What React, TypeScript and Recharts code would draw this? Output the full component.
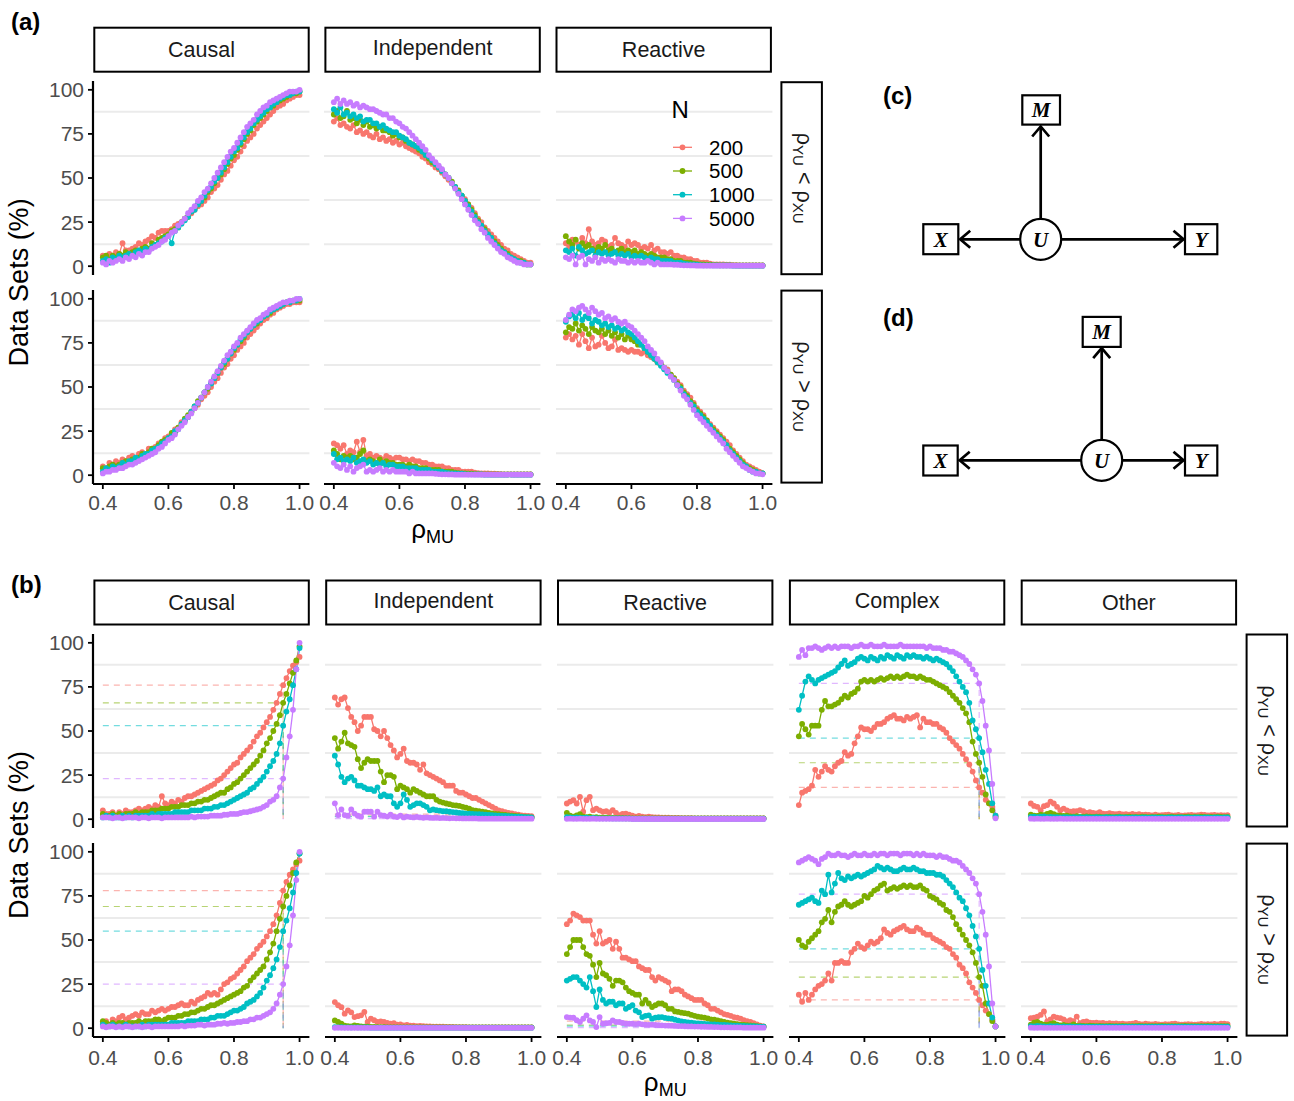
import React from 'react';
import { LineChart, Line, XAxis, YAxis, CartesianGrid } from 'recharts';

const FONT = "'Liberation Sans', Arial, Helvetica, sans-serif";
const SERIF = "'Liberation Serif', 'Times New Roman', serif";

// x: rho_MU grid
const RHO_MU = [
  0.4, 0.41, 0.42, 0.43, 0.44, 0.45, 0.46, 0.47, 0.48, 0.49,
  0.5, 0.51, 0.52, 0.53, 0.54, 0.55, 0.56, 0.57, 0.58, 0.59,
  0.6, 0.61, 0.62, 0.63, 0.64, 0.65, 0.66, 0.67, 0.68, 0.69,
  0.7, 0.71, 0.72, 0.73, 0.74, 0.75, 0.76, 0.77, 0.78, 0.79,
  0.8, 0.81, 0.82, 0.83, 0.84, 0.85, 0.86, 0.87, 0.88, 0.89,
  0.9, 0.91, 0.92, 0.93, 0.94, 0.95, 0.96, 0.97, 0.98, 0.99,
  1.0,
];

const SAMPLE_SIZES = ['200', '500', '1000', '5000'];
const COLORS = ['#F8766D', '#7CAE00', '#00BFC4', '#C77CFF'];
const TYPES_A = ['Causal', 'Independent', 'Reactive'];
const TYPES_B = ['Causal', 'Independent', 'Reactive', 'Complex', 'Other'];
const Y_TICKS = [0, 25, 50, 75, 100];
const X_TICKS = [0.4, 0.6, 0.8, 1.0];
const MINOR_GRID = [12.5, 37.5, 62.5, 87.5];
const THRESHOLD_X = 0.95;

// ---------- (a) rho_YU < rho_XU ----------
const aCauLt200 = [6,5,7,6,8,7,13,9,9,10, 11,13,12,14,15,17,16,19,20,20, 20,21,23,24,25,27,28,30,32,34, 35,37,39,42,44,46,49,52,54,57, 60,62,65,68,71,73,75,78,80,82, 84,86,88,90,91,92,94,95,96,97, 97];
const aCauLt500 = [5,6,4,6,5,7,6,8,7,8, 9,8,10,11,10,13,12,15,16,17, 18,20,21,22,25,27,28,31,33,35, 37,39,42,44,47,50,52,55,58,61, 63,66,69,72,75,77,80,82,84,86, 88,90,91,93,94,95,96,97,98,98, 99];
const aCauLt1000 = [3,4,2,5,4,6,5,6,7,6, 8,9,8,10,9,11,12,13,14,16, 17,13,20,22,24,26,28,31,32,35, 37,40,43,45,48,50,53,56,59,62, 65,67,70,73,76,78,81,83,85,87, 89,90,92,93,95,96,97,97,98,99, 99];
const aCauLt5000 = [2,1,3,2,3,4,3,5,4,6, 5,7,6,8,8,10,11,12,14,15, 17,19,20,23,25,27,30,32,34,37, 39,42,44,47,50,53,56,59,62,65, 67,70,73,76,79,81,83,86,88,90, 91,93,94,95,96,97,98,99,99,99, 100];

const aIndLt200 = [82,84,80,81,79,78,80,76,77,75, 76,74,73,75,72,73,71,72,70,71, 69,70,68,67,66,65,64,62,61,59, 58,56,55,53,51,49,47,45,42,40, 38,35,33,30,27,25,22,20,18,16, 14,12,10,9,7,6,5,4,3,2, 2];
const aIndLt500 = [86,88,84,85,88,83,84,81,83,80, 82,79,80,78,79,77,77,76,74,75, 73,73,71,70,69,68,66,65,63,61, 59,58,56,54,52,50,48,45,43,40, 37,35,32,29,26,23,21,18,16,14, 12,10,8,7,5,4,3,3,2,1, 1];
const aIndLt1000 = [89,87,90,86,87,85,86,84,85,82, 83,83,81,81,79,80,78,77,76,76, 74,73,72,70,69,68,67,65,63,62, 60,58,56,54,52,50,47,45,42,40, 37,34,31,28,25,23,20,18,16,13, 11,9,8,6,5,4,3,2,2,1, 1];
const aIndLt5000 = [93,95,92,94,92,93,91,92,90,91, 90,89,89,88,87,86,86,84,84,82, 81,79,78,76,74,72,70,68,66,63, 61,59,57,55,52,50,47,44,41,38, 35,32,29,26,24,21,19,16,14,12, 10,8,7,5,4,3,2,2,1,1, 1];

const aReaLt200 = [13,11,15,14,12,16,13,21,14,12, 13,15,14,11,12,16,13,12,11,14, 12,13,12,10,11,10,12,9,10,8, 8,7,8,6,6,5,5,4,4,3, 3,2,2,2,1.5,1,1,1,1,0.8, 0.8,0.6,0.6,0.5,0.5,0.5,0.5,0.5,0.5,0.5, 0.5];
const aReaLt500 = [17,14,12,15,10,13,11,12,10,9, 11,10,12,9,10,8,9,10,8,9, 8,9,7,8,7,6,7,6,5,5, 5,4,4,3,3,3,2,2,2,1.5, 1.2,1,1,0.8,0.8,0.6,0.6,0.5,0.5,0.5, 0.5,0.5,0.4,0.4,0.4,0.4,0.4,0.4,0.4,0.4, 0.4];
const aReaLt1000 = [9,8,10,6,11,9,7,8,9,6, 8,7,8,6,7,8,6,7,6,7, 5,6,5,6,5,4,5,4,4,3, 3,3,3,2,2,2,1.5,1.2,1,1, 0.8,0.6,0.5,0.5,0.5,0.4,0.4,0.4,0.4,0.4, 0.4,0.3,0.3,0.3,0.3,0.3,0.3,0.3,0.3,0.3, 0.3];
const aReaLt5000 = [5,4,6,1,5,6,1,4,3,5, 2,4,3,4,3,2,4,3,3,2, 3,2,3,2,2,3,2,1,2,1, 1,1,1,0.8,0.8,0.6,0.5,0.5,0.4,0.4, 0.3,0.3,0.3,0.3,0.3,0.3,0.3,0.3,0.3,0.3, 0.3,0.3,0.3,0.3,0.3,0.3,0.3,0.3,0.3,0.3, 0.3];

// ---------- (a) rho_YU > rho_XU ----------
const aCauGt200 = [5,4,7,6,8,7,9,8,10,11, 10,12,13,12,15,14,16,18,17,21, 22,22,26,27,30,31,33,36,38,40, 43,45,47,50,53,55,58,61,63,66, 68,71,73,75,78,80,82,84,86,88, 89,91,92,94,95,96,97,97,98,98, 98];
const aCauGt500 = [4,3,5,6,5,6,7,8,7,9, 9,10,12,11,13,15,14,17,19,20, 21,24,24,27,29,32,34,36,39,42, 44,47,49,52,55,58,61,63,66,69, 71,74,76,78,81,83,85,86,88,90, 91,92,94,95,96,97,98,98,99,99, 99];
const aCauGt1000 = [2,4,3,5,4,5,7,6,8,8, 10,9,11,12,12,14,15,16,18,19, 21,22,25,26,29,31,33,36,39,41, 44,47,50,52,55,58,61,64,66,69, 72,74,77,79,81,83,85,87,88,90, 91,93,94,95,96,97,98,98,99,99, 100];
const aCauGt5000 = [1,2,2,3,3,4,4,5,6,6, 7,8,9,10,11,12,13,15,16,18, 20,21,23,26,28,30,33,35,38,41, 44,47,50,53,56,59,62,65,68,70, 73,75,78,80,82,84,86,88,89,91, 92,94,95,96,97,98,98,99,99,100, 100];

const aIndGt200 = [18,17,15,17,12,14,13,19,13,20, 11,12,10,11,10,9,11,10,9,10, 10,9,9,8,9,8,8,7,7,6, 6,5,5,5,4,4,3,3,3,2, 2,2,2,1.5,1.2,1,1,1,0.8,0.8, 0.7,0.6,0.5,0.5,0.5,0.5,0.5,0.5,0.5,0.5, 0.5];
const aIndGt500 = [14,12,9,11,10,11,9,10,12,14, 8,9,8,7,9,7,8,7,7,6, 6,6,5,6,5,5,4,4,4,3, 3,3,3,2,2,2,2,1.5,1.2,1, 1,0.8,0.8,0.6,0.6,0.5,0.5,0.5,0.4,0.4, 0.4,0.4,0.4,0.4,0.4,0.4,0.4,0.4,0.4,0.4, 0.4];
const aIndGt1000 = [12,9,10,8,9,8,10,7,8,9, 7,8,6,7,6,7,5,6,6,5, 5,5,4,4,4,4,3,3,3,3, 2,2,2,2,1.5,1.2,1,1,0.8,0.8, 0.6,0.5,0.5,0.4,0.4,0.4,0.3,0.3,0.3,0.3, 0.3,0.3,0.3,0.3,0.3,0.3,0.3,0.3,0.3,0.3, 0.3];
const aIndGt5000 = [7,5,4,6,3,5,2,4,5,6, 2,3,2,3,4,2,3,2,3,2, 2,2,2,1,2,1,1,1,1,1, 1,0.8,0.6,0.5,0.5,0.4,0.4,0.3,0.3,0.3, 0.3,0.3,0.3,0.3,0.3,0.3,0.3,0.3,0.3,0.3, 0.3,0.3,0.3,0.3,0.3,0.3,0.3,0.3,0.3,0.3, 0.3];

const aReaGt200 = [78,80,77,79,74,80,76,72,78,73, 74,79,75,72,73,77,71,72,71,70, 71,70,70,69,70,68,67,66,64,63, 61,60,57,55,53,51,48,46,44,41, 38,36,34,31,29,27,25,23,21,19, 17,14,12,10,8,6,5,4,3,2, 1];
const aReaGt500 = [81,84,83,86,82,85,83,80,84,82, 81,83,80,82,79,81,78,80,77,79, 77,76,74,74,72,70,68,66,64,63, 61,59,57,55,52,50,47,45,42,40, 37,35,33,31,28,26,24,22,20,17, 15,13,11,9,7,5,4,3,2,1, 1];
const aReaGt1000 = [87,90,91,89,92,88,90,89,86,88, 87,85,86,84,85,83,84,82,83,81, 80,78,76,74,72,70,68,66,64,62, 60,58,56,54,51,49,46,44,41,39, 36,34,32,30,28,25,23,21,19,17, 14,12,10,8,6,5,3,2,2,1, 1];
const aReaGt5000 = [88,91,94,93,95,96,94,92,95,93, 91,92,89,90,88,89,87,86,87,85, 84,82,80,78,76,73,71,69,66,64, 61,59,56,54,51,48,45,43,40,37, 34,32,30,28,26,24,22,20,18,15, 13,11,9,7,5,4,3,2,1,1, 0.5];

// ---------- (b) rho_YU < rho_XU ----------
const bCauLt200 = [5,3,3,4,2,4,3,5,4,4, 5,6,5,6,7,6,8,7,13,9, 8,10,9,11,10,12,13,13,14,15, 16,17,18,19,20,22,23,25,27,29, 31,32,35,37,39,41,44,47,49,52, 55,58,62,66,71,76,80,84,87,89, 92];
const bCauLt500 = [3,2,2,3,2,3,2,3,3,3, 4,3,4,4,4,5,5,5,6,6, 6,7,7,7,8,8,8,9,9,10, 10,11,11,12,13,14,15,15,17,18, 20,21,23,25,27,29,31,33,36,39, 43,46,50,54,59,66,71,77,83,90, 98];
const bCauLt1000 = [1,2,1,2,1,1,2,1,2,1, 2,2,2,2,2,3,2,3,3,3, 3,3,4,4,4,4,4,5,5,5, 5,6,6,6,7,7,8,8,9,10, 11,12,13,14,15,17,18,20,22,24, 27,30,33,37,43,53,61,68,76,85, 97];
const bCauLt5000 = [1,1,1,0.5,1,1,0.5,1,1,1, 1,0.5,1,1,0.5,1,1,1,0.5,1, 1,1,1,1,1,1,1,1.5,1,1.5, 1.5,1.5,1.5,2,2,2,2,2.5,2.5,3, 3,3,3.5,4,4,4.5,5,5.5,6,7, 8,10,11,13,18,23,35,47,62,85, 100];

const bIndLt200 = [69,65,68,69,63,58,55,50,53,58, 58,58,51,50,47,50,46,42,39,35, 37,40,33,32,32,31,28,31,26,25, 24,23,22,21,19,19,19,16,15,15, 14,13,12,12,11,10,9,8,7,6, 5,4.5,4,3.6,3.3,2.9,2.5,2.2,2,1.8, 1.7];
const bIndLt500 = [46,40,44,49,43,42,41,34,29,32, 34,33,33,33,27,21,25,25,24,17, 19,18,17,15,17,16,15,14,13,13, 13,11,10,9.4,8.9,8.5,8,7.8,7.5,7, 6.5,6,5.1,4.8,4.6,4.2,4,3.6,3.3,3, 2.9,2.6,2.4,2.2,2,1.8,1.7,1.5,1.3,1.1, 1];
const bIndLt1000 = [36,31,24,21,23,24,22,19,19,18, 17,17,16,18,13,14,13,13,9,7, 9,14,11,7,8,9,9,8,7,5, 5.5,5.1,4.8,4.5,4.5,4.2,4,3.8,3.5,3.4, 3.2,3.1,3,2.9,2.8,2.7,2.5,2.4,2.3,2.2, 2,1.9,1.8,1.7,1.6,1.5,1.4,1.3,1.2,1.1, 1];
const bIndLt5000 = [9,2.3,5.5,2.3,2,5.5,3.2,2,1.4,4.2, 4.2,4.2,1.4,4.2,2.3,2,1.5,2.5,1.5,1.2, 2,1,1.5,1.2,1,1.3,1,0.8,1,0.8, 0.7,0.8,0.6,0.7,0.6,0.5,0.6,0.5,0.5,0.4, 0.4,0.4,0.4,0.4,0.3,0.3,0.3,0.3,0.3,0.3, 0.3,0.3,0.3,0.3,0.3,0.3,0.3,0.3,0.3,0.3, 0.3];

const bReaLt200 = [8.9,10,10.8,8.9,12.7,4.2,10.8,12.7,5.1,6, 5,4.2,4.5,3.8,5.1,3.5,2.3,3,3.2,2.5, 2,1.4,1.8,1.5,1.2,1.4,1.2,1,1,0.8, 0.8,0.8,0.7,0.7,0.7,0.6,0.6,0.6,0.6,0.5, 0.5,0.5,0.5,0.5,0.5,0.5,0.5,0.5,0.5,0.5, 0.5,0.5,0.5,0.5,0.5,0.5,0.5,0.5,0.5,0.5, 0.5];
const bReaLt500 = [3.6,2,1.4,2.2,2.9,1.5,1.2,1.5,1,1.2, 0.9,0.8,0.8,0.7,0.7,0.6,0.6,0.6,0.5,0.5, 0.5,0.5,0.5,0.5,0.4,0.4,0.4,0.4,0.4,0.4, 0.4,0.4,0.4,0.4,0.4,0.4,0.4,0.4,0.4,0.4, 0.4,0.4,0.4,0.4,0.4,0.4,0.4,0.4,0.4,0.4, 0.4,0.4,0.4,0.4,0.4,0.4,0.4,0.4,0.4,0.4, 0.4];
const bReaLt1000 = [1.2,1,0.8,1,0.9,0.7,0.8,0.6,0.7,0.6, 0.5,0.5,0.5,0.5,0.4,0.4,0.4,0.4,0.4,0.4, 0.3,0.3,0.3,0.3,0.3,0.3,0.3,0.3,0.3,0.3, 0.3,0.3,0.3,0.3,0.3,0.3,0.3,0.3,0.3,0.3, 0.3,0.3,0.3,0.3,0.3,0.3,0.3,0.3,0.3,0.3, 0.3,0.3,0.3,0.3,0.3,0.3,0.3,0.3,0.3,0.3, 0.3];
const bReaLt5000 = [0.2,0.3,0.2,0.2,0.3,0.2,0.2,0.2,0.3,0.2, 0.2,0.2,0.2,0.2,0.2,0.2,0.2,0.2,0.2,0.2, 0.1,0.1,0.1,0.1,0.1,0.1,0.1,0.1,0.1,0.1, 0.1,0.1,0.1,0.1,0.1,0.1,0.1,0.1,0.1,0.1, 0.1,0.1,0.1,0.1,0.1,0.1,0.1,0.1,0.1,0.1, 0.1,0.1,0.1,0.1,0.1,0.1,0.1,0.1,0.1,0.1, 0.1];

const bComLt200 = [8,15,16,17,19,28,24,27,30,28, 27,30,32,33,38,36,37,43,47,52, 51,51,50,52,54,54,55,57,58,59, 57,57,56,58,57,58,59,52,57,55, 55,54,54,52,51,49,46,44,42,40, 37,34,31,27,22,18,15,11,9,7, 2];
const bComLt500 = [47,54,51,48,53,53,53,62,67,64, 64,65,66,68,70,69,71,72,74,78, 79,78,79,78,79,80,79,80,81,80, 81,80,81,82,81,81,80,81,80,79, 79,78,77,76,75,74,72,70,68,66, 63,60,55,44,37,32,24,14,9,5, 1];
const bComLt1000 = [62,70,78,81,79,77,79,80,81,82, 83,84,86,88,90,87,88,89,91,92, 91,90,92,91,90,92,91,93,92,91, 93,92,91,93,92,93,92,92,91,92, 91,90,91,90,89,88,86,84,81,78, 75,72,66,56,51,46,38,28,20,9, 2];
const bComLt5000 = [92,96,93,97,97,98,97,96,97,98, 97,98,97,98,98,98,97,98,98,99, 98,98,99,98,98,98,99,98,98,98, 98,99,98,98,98,98,98,98,98,97, 98,97,97,97,96,96,95,95,94,93, 92,90,88,85,82,77,67,53,39,20, 0.5];

const bOthLt200 = [8.9,7.5,7,5.1,7.4,8,9.9,8.9,7,5.1, 6,5,4.2,4.5,4.6,5.1,4.5,3.6,4,3.5, 3.3,4,3.2,3,3.4,3,2.8,3.1,2.7,2.9, 2.6,3,2.5,2.8,2.4,2.6,2.4,2.2,2.5,2.1, 2.3,2.4,2.6,2.2,2.1,2.4,2,2.2,2.3,2.4, 2.1,2.3,2.5,2.4,2.2,2.3,2.4,2.1,2.3,2.2, 2.3];
const bOthLt500 = [2.5,2,1.8,2.5,2.3,3,3.5,2.8,2.2,2, 1.8,2,1.6,1.5,1.7,1.4,1.5,1.6,1.4,1.3, 1.5,1.4,1.2,1.3,1.4,1.2,1.3,1.5,1.2,1.3, 1.4,1.2,1.3,1.2,1.4,1.3,1.2,1.3,1.2,1.4, 1.3,1.2,1.3,1.4,1.2,1.3,1.2,1.3,1.4,1.2, 1.3,1.2,1.4,1.3,1.2,1.3,1.2,1.4,1.3,1.2, 1.3];
const bOthLt1000 = [1.3,1.5,1.2,1.4,1.6,1.2,1.3,1.1,1.2,1, 1.1,1.2,1,1.1,1,1.2,1,1.1,1,1, 1.1,1,1,1.1,1,1,1,1.1,1,1, 0.9,1,1,0.9,1,1,0.9,1,1,0.9, 1,0.9,1,1,0.9,1,1,0.9,1,0.9, 1,1,0.9,1,1,0.9,1,1,0.9,1, 1];
const bOthLt5000 = [0.3,0.2,0.3,0.2,0.2,0.3,0.2,0.2,0.2,0.3, 0.2,0.2,0.2,0.2,0.2,0.2,0.2,0.2,0.2,0.2, 0.2,0.2,0.2,0.2,0.2,0.2,0.2,0.2,0.2,0.2, 0.2,0.2,0.2,0.2,0.2,0.2,0.2,0.2,0.2,0.2, 0.2,0.2,0.2,0.2,0.2,0.2,0.2,0.2,0.2,0.2, 0.2,0.2,0.2,0.2,0.2,0.2,0.2,0.2,0.2,0.2, 0.2];

// ---------- (b) rho_YU > rho_XU ----------
const bCauGt200 = [3,4,2,5,4,6,7,5,6,7, 8,7,9,8,8,10,9,10,11,10, 11,12,12,13,14,13,13,15,14,16, 17,18,20,19,20,19,22,25,26,28, 29,31,33,35,38,40,42,45,47,49, 52,55,59,64,71,78,83,87,90,93, 95];
const bCauGt500 = [4,3,2,3,2,3,3,2,3,3, 3,4,3,4,4,4,5,5,4,5, 6,6,6,7,7,8,8,9,9,10, 11,11,12,13,13,14,15,16,17,18, 19,20,21,23,24,27,29,31,33,35, 39,43,48,55,62,69,75,81,88,94, 99];
const bCauGt1000 = [2,1,1,2,1,1,1,2,1,1, 1,1,2,1,2,2,2,2,2,2, 2,3,3,3,3,3,4,4,4,4, 5,5,5,6,6,7,7,7,8,9, 10,10,11,12,14,15,16,18,20,23, 27,30,34,39,46,55,61,68,77,88, 99];
const bCauGt5000 = [1,0.5,1,1,0.5,1,0.5,1,1,0.5, 1,1,0.5,1,1,0.5,1,1,1,1, 1,1,1,1,1.5,1,1.5,1.5,1.5,2, 2,1.5,2,2,2,2.5,2.5,3,2.5,3, 3,3.5,3.5,4,4,5,5,6,6,7, 8,9,11,14,19,25,35,47,64,84, 100];

const bIndGt200 = [14.8,13,11.9,8.2,10.1,9,6.3,6.8,7.3,9.2, 3.5,5.4,4.5,3.5,3.8,3.5,3,2.6,2.8,2, 2.2,1.6,1.8,1.5,1.4,1.2,1.3,1.1,1,1, 0.9,0.9,0.8,0.8,0.7,0.7,0.7,0.6,0.6,0.6, 0.6,0.5,0.5,0.5,0.5,0.5,0.5,0.5,0.5,0.5, 0.5,0.5,0.5,0.5,0.5,0.5,0.5,0.5,0.5,0.5, 0.5];
const bIndGt500 = [4.4,3.5,2.6,1.5,1.2,1,1.6,1.3,1,0.8, 0.8,0.7,0.7,0.6,0.6,0.6,0.5,0.5,0.5,0.5, 0.5,0.4,0.4,0.4,0.4,0.4,0.4,0.4,0.4,0.4, 0.4,0.4,0.4,0.4,0.4,0.4,0.4,0.4,0.4,0.4, 0.4,0.4,0.4,0.4,0.4,0.4,0.4,0.4,0.4,0.4, 0.4,0.4,0.4,0.4,0.4,0.4,0.4,0.4,0.4,0.4, 0.4];
const bIndGt1000 = [0.6,0.5,0.6,0.5,0.5,0.4,0.5,0.4,0.4,0.4, 0.4,0.3,0.3,0.3,0.3,0.3,0.3,0.3,0.3,0.3, 0.3,0.3,0.3,0.3,0.3,0.3,0.3,0.3,0.3,0.3, 0.3,0.3,0.3,0.3,0.3,0.3,0.3,0.3,0.3,0.3, 0.3,0.3,0.3,0.3,0.3,0.3,0.3,0.3,0.3,0.3, 0.3,0.3,0.3,0.3,0.3,0.3,0.3,0.3,0.3,0.3, 0.3];
const bIndGt5000 = [0.2,0.3,0.2,0.2,0.2,0.2,0.2,0.2,0.2,0.2, 0.2,0.2,0.2,0.2,0.2,0.2,0.2,0.2,0.2,0.2, 0.2,0.2,0.2,0.2,0.2,0.2,0.2,0.2,0.2,0.2, 0.2,0.2,0.2,0.2,0.2,0.2,0.2,0.2,0.2,0.2, 0.2,0.2,0.2,0.2,0.2,0.2,0.2,0.2,0.2,0.2, 0.2,0.2,0.2,0.2,0.2,0.2,0.2,0.2,0.2,0.2, 0.2];

const bReaGt200 = [59,61,65,64,63,61,61,61,53,48, 55,48,49,50,45,49,45,40,40,39, 38,38,35,34,33,33,29,27,29,28, 27,26,21,22,22,21,19,18,17,16, 16,16,14,13,11,11,10,9,8,7.5, 7,6.3,6,5.4,4.5,4,3.5,2.8,2.2,1.5, 1];
const bReaGt500 = [42,46,50,50,50,46,42,41,36,29, 37,31,30,28,24,27,27,26,23,21, 20,19,19,14,16,14,12,13,14,14, 13,11,11,9.5,9.2,8.8,8.5,8.2,7.5,7, 6.5,6.3,6,5.5,5,4.8,4.4,4,3.6,3.2, 2.8,2.5,2.3,2,1.8,1.7,1.6,1.4,1.2,1, 0.8];
const bReaGt1000 = [27,28,29,29,27,25,23,29,21,12, 22,16,14,15,15,13,14,14,11,12, 13,10,9,6.3,7,7.3,5.4,6,6.2,6.3, 5.8,5.6,5.4,4.8,4.3,3.9,3.5,3.3,3.1,2.9, 2.7,2.5,2.4,2.3,2.2,2.1,2,1.9,1.8,1.7, 1.6,1.5,1.4,1.3,1.3,1.2,1.2,1.1,1,0.9, 0.8];
const bReaGt5000 = [6.3,6,5.9,4.5,3.5,5.4,7.3,4.4,3.5,0.6, 6.3,2.5,2.8,3,4.4,3.5,3.5,3,2.5,2.5, 2.5,2.3,2.5,2.2,2,1.9,2,1.8,1.7,1.6, 1.5,1.5,1.4,1.3,1.2,1.2,1.1,1,1,0.9, 0.9,0.8,0.8,0.7,0.7,0.6,0.6,0.5,0.5,0.5, 0.4,0.4,0.4,0.4,0.3,0.3,0.3,0.3,0.3,0.3, 0.3];

const bComGt200 = [19,15,20,16,19,22,24,25,27,31, 27,37,37,38,37,37,43,45,48,46, 45,47,49,48,49,51,56,54,53,55, 56,57,58,56,55,55,57,56,54,53, 53,51,50,49,48,46,45,42,40,36, 34,31,26,23,20,16,13,10,8,5, 1];
const bComGt500 = [50,47,46,49,51,53,55,60,62,67, 60,66,69,70,72,70,69,70,71,72, 75,74,76,78,79,81,82,78,79,80, 79,80,81,80,81,80,80,81,79,78, 75,74,73,71,70,67,66,63,59,56, 53,50,47,43,37,29,24,14,8,4, 1];
const bComGt1000 = [70,71,72,73,74,72,71,78,76,87, 77,82,88,85,84,86,85,86,87,86, 87,88,89,90,92,91,90,91,90,89, 89,90,91,90,90,91,90,89,89,88, 88,88,87,87,86,84,82,80,77,74, 72,68,64,58,52,45,33,24,14,6, 1];
const bComGt5000 = [94,95,96,97,96,95,93,96,97,99, 98,98,99,98,98,97,98,99,98,98, 99,98,98,99,98,99,99,98,99,99, 99,98,99,99,99,98,99,98,99,98, 98,98,97,98,97,97,96,95,95,94, 92,90,88,85,82,76,66,53,35,14, 1];

const bOthGt200 = [5.7,6,6.6,7.5,9.5,3.8,5,6.6,6,5.7, 5,3.8,4.5,4,6.6,2.9,3.5,3.8,3.2,3, 3.2,2.8,3,2.6,2.9,2.5,2.7,2.4,2.6,2.3, 2.4,2.6,3,2.4,2.2,2.5,2.3,2.1,2.4,2.2, 2,2.3,2.1,2.4,2.6,2.2,2,2.1,2.3,2.2, 2,2.1,2.4,2.2,2.3,2.1,2.4,2.2,2.5,2.6, 2.3];
const bOthGt500 = [2,3.2,3.5,2.6,2,1.8,2.4,2.9,2,1.6, 1.9,1.5,1.4,2.2,1.3,1.4,1.3,1.2,1.4,1.3, 1.2,1.3,1.2,1.2,1.3,1.2,1.1,1.2,1.3,1.2, 1.2,1.1,1.2,1.3,1.2,1.1,1.2,1.2,1.1,1.2, 1.3,1.2,1.1,1.2,1.2,1.1,1.2,1.3,1.2,1.1, 1.2,1.2,1.1,1.2,1.3,1.2,1.1,1.2,1.2,1.1, 1.2];
const bOthGt1000 = [1.2,1,1.3,1.1,1,0.9,1.2,1,1.1,0.9, 1,0.9,1,0.8,0.9,1,0.9,0.8,0.9,0.9, 0.8,0.9,0.8,0.9,0.8,0.8,0.9,0.8,0.8,0.9, 0.8,0.8,0.9,0.8,0.8,0.8,0.9,0.8,0.8,0.8, 0.9,0.8,0.8,0.8,0.9,0.8,0.8,0.8,0.9,0.8, 0.8,0.8,0.9,0.8,0.8,0.8,0.9,0.8,0.8,0.8, 0.8];
const bOthGt5000 = [0.3,0.2,0.2,0.3,0.2,0.2,0.2,0.2,0.2,0.2, 0.2,0.2,0.2,0.2,0.2,0.2,0.2,0.2,0.2,0.2, 0.2,0.2,0.2,0.2,0.2,0.2,0.2,0.2,0.2,0.2, 0.2,0.2,0.2,0.2,0.2,0.2,0.2,0.2,0.2,0.2, 0.2,0.2,0.2,0.2,0.2,0.2,0.2,0.2,0.2,0.2, 0.2,0.2,0.2,0.2,0.2,0.2,0.2,0.2,0.2,0.2, 0.2];

// facet grids: [row][column] -> one array per sample size
const PANEL_A = [
  [
    [aCauLt200, aCauLt500, aCauLt1000, aCauLt5000],
    [aIndLt200, aIndLt500, aIndLt1000, aIndLt5000],
    [aReaLt200, aReaLt500, aReaLt1000, aReaLt5000],
  ],
  [
    [aCauGt200, aCauGt500, aCauGt1000, aCauGt5000],
    [aIndGt200, aIndGt500, aIndGt1000, aIndGt5000],
    [aReaGt200, aReaGt500, aReaGt1000, aReaGt5000],
  ],
];
const PANEL_B = [
  [
    [bCauLt200, bCauLt500, bCauLt1000, bCauLt5000],
    [bIndLt200, bIndLt500, bIndLt1000, bIndLt5000],
    [bReaLt200, bReaLt500, bReaLt1000, bReaLt5000],
    [bComLt200, bComLt500, bComLt1000, bComLt5000],
    [bOthLt200, bOthLt500, bOthLt1000, bOthLt5000],
  ],
  [
    [bCauGt200, bCauGt500, bCauGt1000, bCauGt5000],
    [bIndGt200, bIndGt500, bIndGt1000, bIndGt5000],
    [bReaGt200, bReaGt500, bReaGt1000, bReaGt5000],
    [bComGt200, bComGt500, bComGt1000, bComGt5000],
    [bOthGt200, bOthGt500, bOthGt1000, bOthGt5000],
  ],
];

// layout
const PW = 216.4;
const PH = 194;
const A_COLS = [93.3, 324.4, 555.5];
const A_ROWS = [81.2, 289.6];
const B_COLS = [93.4, 325.2, 557.0, 788.9, 1020.7];
const B_ROWS = [633.5, 842.6];
const STRIP_H = 46;
const A_STRIP_Y = 26.7;
const B_STRIP_Y = 579.5;
const SIDE_W = 42.5;
const Y_AXIS_W = 70;
const X_AXIS_H = 40;
const TICK_FS = 21;
const DOT_R = 2.9;

type FacetProps = {
  left: number;
  top: number;
  series: number[][];
  showY: boolean;
  showX: boolean;
  markers: boolean;
  xTickGap: number;
};

function Facet({ left, top, series, showY, showX, markers, xTickGap }: FacetProps) {
  const yw = showY ? Y_AXIS_W : 0;
  const xh = showX ? X_AXIS_H : 0;
  const k95 = RHO_MU.indexOf(THRESHOLD_X);
  const pointSets = series.map((vals) => RHO_MU.map((x, i) => ({ x, y: vals[i] })));
  const markerSets = series.map((vals) => [
    { x: RHO_MU[0], y: vals[k95] },
    { x: RHO_MU[k95], y: vals[k95] },
    { x: RHO_MU[k95], y: 0 },
  ]);
  return (
    <div style={{ position: 'absolute', left: left - yw, top }}>
      <LineChart
        width={PW + yw}
        height={PH + xh}
        margin={{ top: 0, right: 0, bottom: 0, left: 0 }}
        style={{ overflow: 'visible' }}
      >
        <CartesianGrid vertical={false} horizontalValues={MINOR_GRID} stroke="#EBEBEB" strokeWidth={2} />
        <XAxis
          type="number"
          dataKey="x"
          domain={[0.37, 1.03]}
          ticks={X_TICKS}
          interval={0}
          allowDataOverflow
          hide={!showX}
          height={xh}
          tickFormatter={(v: number) => v.toFixed(1)}
          tickSize={5}
          tickMargin={xTickGap}
          axisLine={{ stroke: '#000', strokeWidth: 2.2 }}
          tickLine={{ stroke: '#000', strokeWidth: 1.8 }}
          tick={{ fill: '#4D4D4D', fontSize: TICK_FS, fontFamily: FONT }}
        />
        <YAxis
          type="number"
          domain={[-5, 105]}
          ticks={Y_TICKS}
          interval={0}
          allowDataOverflow
          hide={!showY}
          width={yw}
          tickSize={5}
          tickMargin={4}
          axisLine={{ stroke: '#000', strokeWidth: 2.2 }}
          tickLine={{ stroke: '#000', strokeWidth: 1.8 }}
          tick={{ fill: '#4D4D4D', fontSize: TICK_FS, fontFamily: FONT }}
        />
        {markers &&
          markerSets.map((pts, k) => (
            <Line
              key={`mk${k}`}
              data={pts}
              dataKey="y"
              type="linear"
              stroke={COLORS[k]}
              strokeOpacity={0.55}
              strokeWidth={1.2}
              strokeDasharray="6 5"
              dot={false}
              activeDot={false}
              isAnimationActive={false}
            />
          ))}
        {pointSets.map((pts, k) => (
          <Line
            key={`s${k}`}
            data={pts}
            dataKey="y"
            name={SAMPLE_SIZES[k]}
            type="linear"
            stroke={COLORS[k]}
            strokeWidth={1.3}
            dot={{ r: DOT_R, fill: COLORS[k], stroke: COLORS[k], strokeWidth: 0 }}
            activeDot={false}
            isAnimationActive={false}
          />
        ))}
      </LineChart>
    </div>
  );
}

function StripTop({ x, y, label }: { x: number; y: number; label: string }) {
  const fs = 21.5;
  const drop = /[gjpqy]/.test(label) ? 0.25 : 0.36;
  return (
    <g>
      <rect x={x + 1} y={y + 1} width={PW - 2} height={STRIP_H - 2} fill="#fff" stroke="#000" strokeWidth={2} />
      <text x={x + PW / 2} y={y + STRIP_H / 2 + drop * fs} textAnchor="middle" fontSize={fs} fill="#1A1A1A">
        {label}
      </text>
    </g>
  );
}

function StripSide({ x, y, greater }: { x: number; y: number; greater: boolean }) {
  const cx = x + SIDE_W / 2;
  const cy = y + PH / 2;
  return (
    <g>
      <rect x={x + 1} y={y + 1} width={SIDE_W - 2} height={PH - 2} fill="#fff" stroke="#000" strokeWidth={2} />
      <text transform={`translate(${cx},${cy}) rotate(90)`} y={5} textAnchor="middle" fontSize={21.5} fill="#1A1A1A">
        ρ<tspan fontSize={15} dy={4}>YU</tspan>
        <tspan dy={-4}>{greater ? ' > ' : ' < '}ρ</tspan>
        <tspan fontSize={15} dy={4}>XU</tspan>
      </text>
    </g>
  );
}

function Arrow({ x1, y1, x2, y2 }: { x1: number; y1: number; x2: number; y2: number }) {
  const len = Math.hypot(x2 - x1, y2 - y1);
  const ux = (x2 - x1) / len;
  const uy = (y2 - y1) / len;
  const back = 10;
  const side = 8.5;
  const ax = x2 - ux * back;
  const ay = y2 - uy * back;
  return (
    <g stroke="#000" strokeWidth={2.7} fill="none" strokeLinecap="butt">
      <line x1={x1} y1={y1} x2={x2} y2={y2} />
      <polyline
        points={`${ax - uy * side},${ay + ux * side} ${x2},${y2} ${ax + uy * side},${ay - ux * side}`}
        strokeLinejoin="miter"
      />
    </g>
  );
}

function NodeBox({ x, y, w, h, label }: { x: number; y: number; w: number; h: number; label: string }) {
  return (
    <g>
      <rect x={x} y={y} width={w} height={h} fill="#fff" stroke="#000" strokeWidth={2.2} />
      <text x={x + w / 2} y={y + h / 2 + 7.5} textAnchor="middle" fontFamily={SERIF} fontStyle="italic" fontWeight="bold" fontSize={21}>
        {label}
      </text>
    </g>
  );
}

function NodeCircle({ cx, cy }: { cx: number; cy: number }) {
  return (
    <g>
      <circle cx={cx} cy={cy} r={20.5} fill="#fff" stroke="#000" strokeWidth={2.2} />
      <text x={cx} y={cy + 7.5} textAnchor="middle" fontFamily={SERIF} fontStyle="italic" fontWeight="bold" fontSize={21}>
        U
      </text>
    </g>
  );
}

function Overlay() {
  const aRight = A_COLS[2] + PW + 8.5;
  const bRight = B_COLS[4] + PW + 8.5;
  return (
    <svg
      width={1294}
      height={1101}
      style={{ position: 'absolute', left: 0, top: 0, pointerEvents: 'none' }}
      fontFamily={FONT}
    >
      {/* tags */}
      <text x={11} y={30} fontSize={24} fontWeight="bold">(a)</text>
      <text x={11} y={593} fontSize={24} fontWeight="bold">(b)</text>
      <text x={883} y={104} fontSize={24} fontWeight="bold">(c)</text>
      <text x={883} y={326} fontSize={24} fontWeight="bold">(d)</text>

      {/* facet strips */}
      {TYPES_A.map((t, i) => <StripTop key={`sa${i}`} x={A_COLS[i]} y={A_STRIP_Y} label={t} />)}
      {TYPES_B.map((t, i) => <StripTop key={`sb${i}`} x={B_COLS[i]} y={B_STRIP_Y} label={t} />)}
      <StripSide x={aRight} y={A_ROWS[0]} greater={false} />
      <StripSide x={aRight} y={A_ROWS[1]} greater={true} />
      <StripSide x={bRight} y={B_ROWS[0]} greater={false} />
      <StripSide x={bRight} y={B_ROWS[1]} greater={true} />

      {/* axis titles */}
      <text transform={`translate(28,${(A_ROWS[0] + A_ROWS[1] + PH) / 2}) rotate(-90)`} textAnchor="middle" fontSize={27}>
        Data Sets (%)
      </text>
      <text transform={`translate(28,${(B_ROWS[0] + B_ROWS[1] + PH) / 2}) rotate(-90)`} textAnchor="middle" fontSize={27}>
        Data Sets (%)
      </text>
      <text x={(A_COLS[0] + A_COLS[2] + PW) / 2} y={538} textAnchor="middle" fontSize={26}>
        ρ<tspan fontSize={18} dy={5}>MU</tspan>
      </text>
      <text x={(B_COLS[0] + B_COLS[4] + PW) / 2} y={1091} textAnchor="middle" fontSize={26}>
        ρ<tspan fontSize={18} dy={5}>MU</tspan>
      </text>

      {/* legend */}
      <text x={671.5} y={118.3} fontSize={24}>N</text>
      {SAMPLE_SIZES.map((n, i) => {
        const cy = 147.3 + i * 23.7;
        return (
          <g key={`lg${n}`}>
            <line x1={673} x2={692} y1={cy} y2={cy} stroke={COLORS[i]} strokeWidth={1.3} />
            <circle cx={682.5} cy={cy} r={DOT_R} fill={COLORS[i]} />
            <text x={709} y={cy + 7.4} fontSize={20.5}>{n}</text>
          </g>
        );
      })}

      {/* (c) diagram */}
      <Arrow x1={1040.7} y1={218.8} x2={1040.7} y2={126.5} />
      <Arrow x1={1020.2} y1={239.3} x2={960.2} y2={239.3} />
      <Arrow x1={1061.2} y1={239.3} x2={1183.5} y2={239.3} />
      <NodeBox x={1022.3} y={95.3} w={37.7} h={29.3} label="M" />
      <NodeBox x={923.3} y={224.2} w={35} h={30} label="X" />
      <NodeBox x={1185} y={224.2} w={32.3} h={30} label="Y" />
      <NodeCircle cx={1040.7} cy={239.3} />

      {/* (d) diagram */}
      <Arrow x1={1101.7} y1={439.8} x2={1101.7} y2={348.2} />
      <Arrow x1={1081.2} y1={460.3} x2={959.7} y2={460.3} />
      <Arrow x1={1122.2} y1={460.3} x2={1183.5} y2={460.3} />
      <NodeBox x={1082.7} y={316.9} w={38} h={30} label="M" />
      <NodeBox x={923.3} y={445.5} w={34.4} h={30} label="X" />
      <NodeBox x={1185} y={445.5} w={32.3} h={30} label="Y" />
      <NodeCircle cx={1101.7} cy={460.3} />
    </svg>
  );
}

export default function App() {
  return (
    <div
      style={{
        position: 'absolute',
        left: 0,
        top: 0,
        width: 1294,
        height: 1101,
        background: '#fff',
        overflow: 'hidden',
        fontFamily: FONT,
      }}
    >
      <style>{'.recharts-surface{overflow:visible}.recharts-wrapper{overflow:visible}'}</style>
      {PANEL_A.map((row, r) =>
        row.map((series, c) => (
          <Facet
            key={`a${r}${c}`}
            left={A_COLS[c]}
            top={A_ROWS[r]}
            series={series}
            showY={c === 0}
            showX={r === 1}
            markers={false}
            xTickGap={6}
          />
        )),
      )}
      {PANEL_B.map((row, r) =>
        row.map((series, c) => (
          <Facet
            key={`b${r}${c}`}
            left={B_COLS[c]}
            top={B_ROWS[r]}
            series={series}
            showY={c === 0}
            showX={r === 1}
            markers={true}
            xTickGap={8}
          />
        )),
      )}
      <Overlay />
    </div>
  );
}
